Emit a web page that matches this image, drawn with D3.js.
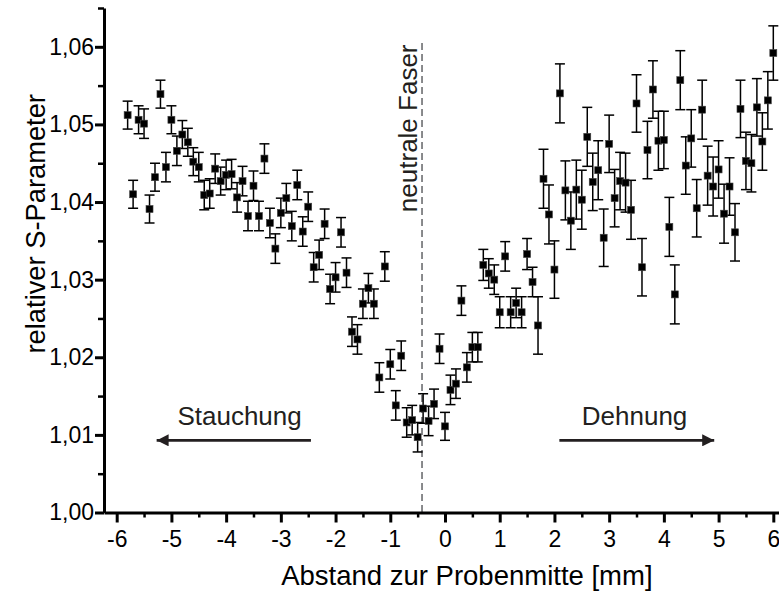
<!DOCTYPE html>
<html>
<head>
<meta charset="utf-8">
<script src="https://cdn.jsdelivr.net/npm/d3@7"></script>
<style>
  body { margin: 0; background: #fff; }
  svg { display: block; font-family: "Liberation Sans", Arial, sans-serif; }
</style>
</head>
<body>
<svg id="chart" width="779" height="592"></svg>
<script>
// Abstand zur Probenmitte [mm]
var abstand = [
  -5.8, -5.7, -5.6, -5.5, -5.4, -5.3, -5.2, -5.1, -5.0, -4.9, -4.8, -4.7, -4.6, -4.5, -4.4, -4.3, -4.2, -4.1, -4.0, -3.9,
  -3.8, -3.7, -3.6, -3.5, -3.4, -3.3, -3.2, -3.1, -3.0, -2.9, -2.8, -2.7, -2.6, -2.5, -2.4, -2.3, -2.2, -2.1, -2.0, -1.9,
  -1.8, -1.7, -1.6, -1.5, -1.4, -1.3, -1.2, -1.1, -1.0, -0.9, -0.8, -0.7, -0.6, -0.5, -0.4, -0.3, -0.2, -0.1, 0.0, 0.1,
  0.2, 0.3, 0.4, 0.5, 0.6, 0.7, 0.8, 0.9, 1.0, 1.1, 1.2, 1.3, 1.4, 1.5, 1.6, 1.7, 1.8, 1.9, 2.0, 2.1,
  2.2, 2.3, 2.4, 2.5, 2.6, 2.7, 2.8, 2.9, 3.0, 3.1, 3.2, 3.3, 3.4, 3.5, 3.6, 3.7, 3.8, 3.9, 4.0, 4.1,
  4.2, 4.3, 4.4, 4.5, 4.6, 4.7, 4.8, 4.9, 5.0, 5.1, 5.2, 5.3, 5.4, 5.5, 5.6, 5.7, 5.8, 5.9, 6.0
]
// relativer S-Parameter
var sParam = [
  1.0512, 1.0410, 1.0506, 1.0501, 1.0391, 1.0432, 1.0539, 1.0445, 1.0506, 1.0466, 1.0487, 1.0477, 1.0452, 1.0445, 1.0409, 1.0411, 1.0443, 1.0427, 1.0435, 1.0436,
  1.0406, 1.0427, 1.0382, 1.0421, 1.0382, 1.0456, 1.0373, 1.0340, 1.0386, 1.0405, 1.0369, 1.0422, 1.0362, 1.0394, 1.0316, 1.0332, 1.0372, 1.0288, 1.0303, 1.0361,
  1.0309, 1.0233, 1.0223, 1.0269, 1.0289, 1.0269, 1.0174, 1.0317, 1.0191, 1.0138, 1.0202, 1.0116, 1.0119, 1.0097, 1.0134, 1.0118, 1.0140, 1.0211, 1.0111, 1.0158,
  1.0166, 1.0273, 1.0187, 1.0213, 1.0213, 1.0319, 1.0308, 1.0300, 1.0258, 1.0330, 1.0258, 1.0270, 1.0258, 1.0333, 1.0297, 1.0241, 1.0430, 1.0384, 1.0313, 1.0540,
  1.0415, 1.0376, 1.0416, 1.0403, 1.0484, 1.0426, 1.0441, 1.0354, 1.0475, 1.0405, 1.0427, 1.0425, 1.0390, 1.0527, 1.0316, 1.0467, 1.0545, 1.0479, 1.0480, 1.0368,
  1.0281, 1.0557, 1.0447, 1.0482, 1.0392, 1.0519, 1.0434, 1.0420, 1.0442, 1.0385, 1.0420, 1.0361, 1.0520, 1.0453, 1.0450, 1.0522, 1.0478, 1.0531, 1.0592
]
// Fehlerbalken (+/-)
var fehler = [
  0.0018, 0.0018, 0.0018, 0.0019, 0.0018, 0.0018, 0.0018, 0.0019, 0.0018, 0.0019, 0.0018, 0.0018, 0.0018, 0.0019, 0.0019, 0.0019, 0.0019, 0.0018, 0.0019, 0.0019,
  0.0019, 0.0019, 0.0019, 0.0019, 0.0019, 0.0019, 0.0019, 0.0019, 0.0019, 0.0019, 0.0019, 0.0019, 0.0019, 0.0019, 0.0019, 0.0019, 0.0019, 0.0019, 0.0019, 0.0019,
  0.0019, 0.0019, 0.0019, 0.0019, 0.0019, 0.0019, 0.0019, 0.0019, 0.0019, 0.0019, 0.0019, 0.0019, 0.0019, 0.0019, 0.0019, 0.0019, 0.0019, 0.0019, 0.0018, 0.0019,
  0.0019, 0.0019, 0.0019, 0.0019, 0.0019, 0.0020, 0.0019, 0.0019, 0.0020, 0.0019, 0.0020, 0.0019, 0.0020, 0.0020, 0.0019, 0.0037, 0.0038, 0.0038, 0.0037, 0.0038,
  0.0038, 0.0037, 0.0038, 0.0038, 0.0038, 0.0037, 0.0038, 0.0037, 0.0037, 0.0037, 0.0037, 0.0038, 0.0038, 0.0037, 0.0037, 0.0037, 0.0037, 0.0038, 0.0037, 0.0038,
  0.0038, 0.0038, 0.0037, 0.0037, 0.0037, 0.0038, 0.0038, 0.0038, 0.0037, 0.0038, 0.0037, 0.0037, 0.0037, 0.0037, 0.0037, 0.0037, 0.0037, 0.0037, 0.0035
]

var xTicks = [-6, -5, -4, -3, -2, -1, 0, 1, 2, 3, 4, 5, 6]
var xMinorTicks = [-5.5, -4.5, -3.5, -2.5, -1.5, -0.5, 0.5, 1.5, 2.5, 3.5, 4.5, 5.5]
var yTicks = [1.00, 1.01, 1.02, 1.03, 1.04, 1.05, 1.06]
var yMinorTicks = [1.005, 1.015, 1.025, 1.035, 1.045, 1.055, 1.065]

var neutraleFaser = -0.42

var width = 779, height = 592
var margin = {top: 8, right: 0, bottom: 79.5, left: 104}

var de = d3.formatLocale({decimal: ",", thousands: ".", grouping: [3], currency: ["", " €"], minus: "-"})

var svg = d3.select("#chart")

var x = d3.scaleLinear()
    .domain([-6.232, 6.104])
    .range([margin.left, width - margin.right])

var y = d3.scaleLinear()
    .domain([1.00, 1.065])
    .range([height - margin.bottom, margin.top])

var data = abstand.map(function(d, i){ return {x: d, y: sParam[i], e: fehler[i]} })

// neutrale Faser (gestrichelt)
svg.append("line")
    .attr("x1", x(neutraleFaser)).attr("x2", x(neutraleFaser))
    .attr("y1", y(1.0605)).attr("y2", y(1.0))
    .attr("stroke", "#6d6e71")
    .attr("stroke-width", 1.6)
    .attr("stroke-dasharray", "7,4")

svg.append("text")
    .attr("transform", "translate(" + (x(neutraleFaser) - 5.5) + "," + y(1.0495) + ") rotate(-90)")
    .attr("text-anchor", "middle")
    .attr("font-size", "26px")
    .attr("fill", "#231f20")
    .text("neutrale Faser")

// Fehlerbalken
var bars = svg.append("g").attr("stroke", "#000").attr("stroke-width", 1.5)

bars.selectAll("line.v")
    .data(data).enter().append("line")
    .attr("class", "v")
    .attr("x1", function(d){ return x(d.x) }).attr("x2", function(d){ return x(d.x) })
    .attr("y1", function(d){ return y(d.y - d.e) }).attr("y2", function(d){ return y(d.y + d.e) })

bars.selectAll("line.top")
    .data(data).enter().append("line")
    .attr("class", "top")
    .attr("x1", function(d){ return x(d.x) - 5 }).attr("x2", function(d){ return x(d.x) + 5 })
    .attr("y1", function(d){ return y(d.y + d.e) }).attr("y2", function(d){ return y(d.y + d.e) })

bars.selectAll("line.bot")
    .data(data).enter().append("line")
    .attr("class", "bot")
    .attr("x1", function(d){ return x(d.x) - 5 }).attr("x2", function(d){ return x(d.x) + 5 })
    .attr("y1", function(d){ return y(d.y - d.e) }).attr("y2", function(d){ return y(d.y - d.e) })

// Messpunkte
svg.append("g").selectAll("rect")
    .data(data).enter().append("rect")
    .attr("x", function(d){ return x(d.x) - 3.5 })
    .attr("y", function(d){ return y(d.y) - 3.5 })
    .attr("width", 7)
    .attr("height", 7)
    .attr("fill", "#000")
    .attr("stroke", "#444")
    .attr("stroke-width", 0.6)

// Achsen
var xMinor = svg.append("g")
    .attr("transform", "translate(0," + y(1.0) + ")")
    .call(d3.axisBottom(x).tickValues(xMinorTicks).tickSize(5).tickFormat(""))
xMinor.select(".domain").remove()
xMinor.selectAll(".tick line").attr("stroke-width", 2.5)

var xAxis = svg.append("g")
    .attr("transform", "translate(0," + y(1.0) + ")")
    .call(d3.axisBottom(x).tickValues(xTicks).tickSize(10).tickSizeOuter(0).tickPadding(8).tickFormat(de.format("d")))
xAxis.select(".domain").attr("stroke-width", 3)
xAxis.selectAll(".tick line").attr("stroke-width", 3)
xAxis.selectAll(".tick text").attr("font-size", "23px").attr("font-family", "Liberation Sans, Arial, sans-serif").attr("fill", "#000")

var yMinor = svg.append("g")
    .attr("transform", "translate(" + x(-6.232) + ",0)")
    .call(d3.axisLeft(y).tickValues(yMinorTicks).tickSize(6).tickFormat(""))
yMinor.select(".domain").remove()
yMinor.selectAll(".tick line").attr("stroke-width", 2.5)

var yAxis = svg.append("g")
    .attr("transform", "translate(" + x(-6.232) + ",0)")
    .call(d3.axisLeft(y).tickValues(yTicks).tickSize(9).tickSizeOuter(0).tickPadding(1).tickFormat(de.format(".2f")))
yAxis.select(".domain").attr("stroke-width", 3)
yAxis.selectAll(".tick line").attr("stroke-width", 3)
yAxis.selectAll(".tick text").attr("font-size", "23px").attr("font-family", "Liberation Sans, Arial, sans-serif").attr("fill", "#000")

// Achsentitel
svg.append("text")
    .attr("x", x(0.4)).attr("y", 585)
    .attr("text-anchor", "middle")
    .attr("font-size", "27.5px")
    .text("Abstand zur Probenmitte [mm]")

svg.append("text")
    .attr("transform", "translate(45," + y(1.0372) + ") rotate(-90)")
    .attr("text-anchor", "middle")
    .attr("font-size", "27.3px")
    .text("relativer S-Parameter")

// Pfeile
svg.append("defs").append("marker")
    .attr("id", "head")
    .attr("viewBox", "0 0 10 10")
    .attr("refX", 10).attr("refY", 5)
    .attr("markerUnits", "userSpaceOnUse")
    .attr("markerWidth", 12).attr("markerHeight", 12)
    .attr("orient", "auto")
    .append("path")
    .attr("d", "M0,0L10,5L0,10Z")
    .attr("fill", "#231f20")

var arrows = [
  {label: "Stauchung", from: -2.45, to: -5.27, tx: -4.89},
  {label: "Dehnung", from: 2.09, to: 4.92, tx: 2.50}
]

svg.append("g").selectAll("line")
    .data(arrows).enter().append("line")
    .attr("x1", function(d){ return x(d.from) }).attr("x2", function(d){ return x(d.to) })
    .attr("y1", y(1.0093)).attr("y2", y(1.0093))
    .attr("stroke", "#231f20")
    .attr("stroke-width", 2.8)
    .attr("marker-end", "url(#head)")

svg.append("g").selectAll("text")
    .data(arrows).enter().append("text")
    .attr("x", function(d){ return x(d.tx) })
    .attr("y", y(1.0113))
    .attr("font-size", "26px")
    .attr("fill", "#231f20")
    .text(function(d){ return d.label })
</script>
</body>
</html>
